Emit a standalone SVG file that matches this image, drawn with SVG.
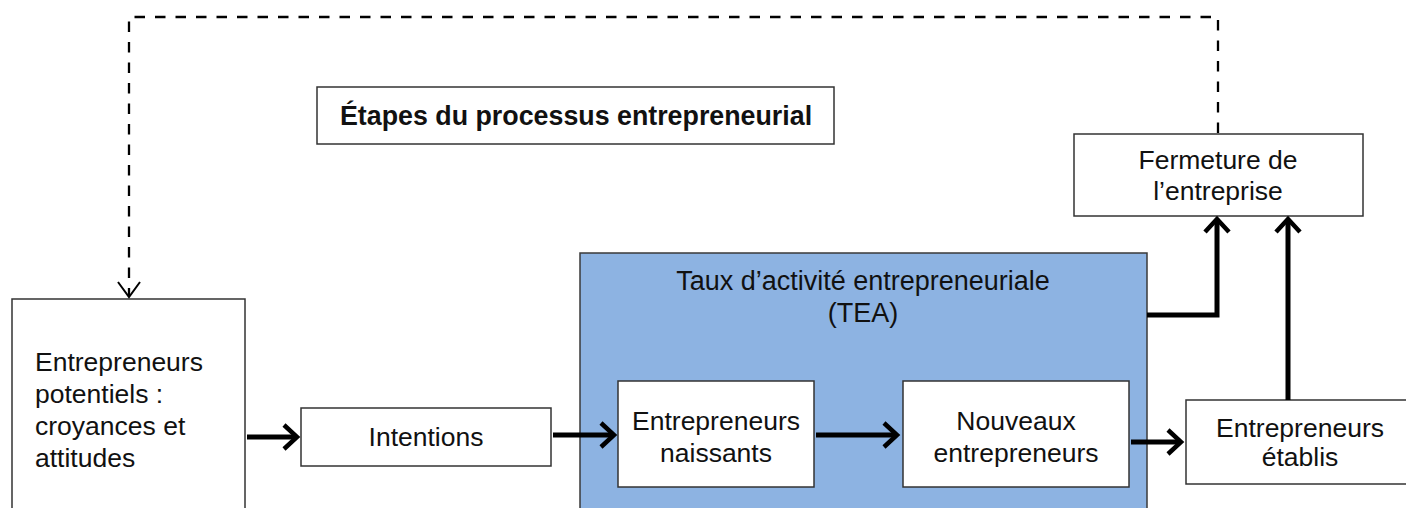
<svg xmlns="http://www.w3.org/2000/svg" width="1406" height="508" viewBox="0 0 1406 508">
<style>
.box{fill:#fff;stroke:#333;stroke-width:1.5}
.tea{fill:#8DB3E2;stroke:#3a3a3a;stroke-width:1.5}
text{font-family:"Liberation Sans",Arial,sans-serif;font-size:26.5px;fill:#111}
.c{text-anchor:middle}
.b{font-weight:bold;font-size:26.8px}
.lg{font-size:27px}
.arr{fill:none;stroke:#000;stroke-width:5}
.head{fill:none;stroke:#000;stroke-width:4.5;stroke-linecap:butt;stroke-linejoin:miter}
.dash{fill:none;stroke:#000;stroke-width:2.3;stroke-dasharray:10.5,10}
</style>
<rect width="1406" height="508" fill="#fff"/>
<g id="tea">
<rect class="tea" x="580" y="253" width="567" height="270"/>
<text class="c lg" x="863" y="290">Taux d’activité entrepreneuriale</text>
<text class="c lg" x="863" y="322">(TEA)</text>
</g>
<g id="title">
<rect class="box" x="317" y="87" width="517" height="57"/>
<text class="b" x="340" y="125">Étapes du processus entrepreneurial</text>
</g>
<g id="potentiels">
<rect class="box" x="12" y="299" width="233" height="230"/>
<text x="35" y="371">Entrepreneurs</text>
<text x="35" y="403">potentiels :</text>
<text x="35" y="435">croyances et</text>
<text x="35" y="467">attitudes</text>
</g>
<g id="intentions">
<rect class="box" x="301" y="408" width="250" height="58"/>
<text class="c" x="426" y="446">Intentions</text>
</g>
<g id="naissants">
<rect class="box" x="618" y="381" width="196" height="106"/>
<text class="c" x="716" y="430">Entrepreneurs</text>
<text class="c" x="716" y="462">naissants</text>
</g>
<g id="nouveaux">
<rect class="box" x="903" y="381" width="226" height="106"/>
<text class="c" x="1016" y="430">Nouveaux</text>
<text class="c" x="1016" y="462">entrepreneurs</text>
</g>
<g id="etablis">
<rect class="box" x="1186" y="400" width="230" height="84"/>
<text class="c" x="1300" y="437">Entrepreneurs</text>
<text class="c" x="1300" y="466">établis</text>
</g>
<g id="fermeture">
<rect class="box" x="1074" y="134" width="289" height="82"/>
<text class="c" x="1218" y="169">Fermeture de</text>
<text class="c" x="1218" y="200">l’entreprise</text>
</g>
<g id="connectors">
<path class="dash" d="M1218,133 V17 H129 V296"/>
<path fill="none" stroke="#000" stroke-width="2" d="M118,282 L129,297 L140,282"/>
<path class="arr" d="M247,437 H295"/>
<path class="head" d="M284,425 L297,437 L284,449"/>
<path class="arr" d="M553,435 H612"/>
<path class="head" d="M601,423 L614,435 L601,447"/>
<path class="arr" d="M816,435 H895"/>
<path class="head" d="M884,423 L897,435 L884,447"/>
<path class="arr" d="M1131,442 H1179"/>
<path class="head" d="M1168,430 L1181,442 L1168,454"/>
<path class="arr" d="M1147,315 H1217 V221"/>
<path class="head" d="M1205,232 L1217,219 L1229,232"/>
<path class="arr" d="M1288,400 V221"/>
<path class="head" d="M1276,232 L1288,219 L1300,232"/>
</g>
</svg>
